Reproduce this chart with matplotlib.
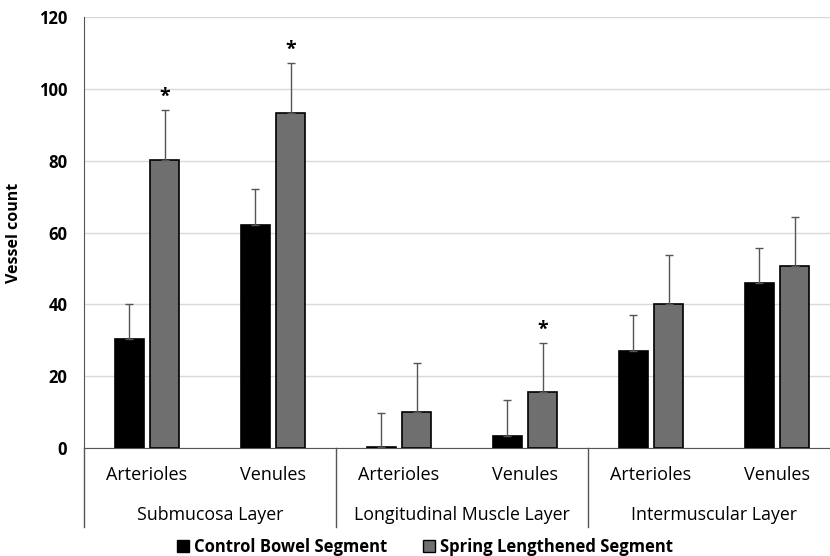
import numpy as np
import matplotlib.pyplot as plt
from matplotlib.patches import Patch
from matplotlib.transforms import blended_transform_factory

plt.rcParams['font.family'] = ['Open Sans', 'DejaVu Sans']

# data
vessels = ['Arterioles', 'Venules', 'Arterioles', 'Venules', 'Arterioles', 'Venules']
layers = ['Submucosa Layer', 'Longitudinal Muscle Layer', 'Intermuscular Layer']
control = [30.4, 62.1, 0.3, 3.3, 27.0, 45.9]
control_err = [9.7, 10.0, 9.4, 10.1, 10.0, 9.8]
spring = [80.2, 93.3, 10.0, 15.6, 40.1, 50.7]
spring_err = [13.9, 13.9, 13.7, 13.6, 13.7, 13.6]
signif = [True, True, False, True, False, False]

c_ctrl = '#000000'
c_spring = '#6f6f6f'

fig = plt.figure(figsize=(8.3, 5.56), dpi=100)
ax = fig.add_axes([84/830, 108/556, 756/830, 431/556])

x = np.arange(len(vessels))
w = 0.225
off = 0.14
ax.bar(x - off, control, w, color=c_ctrl, edgecolor='black', linewidth=1.2, zorder=3)
ax.bar(x + off, spring, w, color=c_spring, edgecolor='black', linewidth=1.2, zorder=3)
ax.errorbar(x - off, control, yerr=[np.zeros(len(x)), control_err], fmt='none',
            ecolor='#555555', elinewidth=1, capsize=3, capthick=1, zorder=4)
ax.errorbar(x + off, spring, yerr=[np.zeros(len(x)), spring_err], fmt='none',
            ecolor='#555555', elinewidth=1, capsize=3, capthick=1, zorder=4)
for i, s in enumerate(signif):
    if s:
        ax.text(x[i] + off, spring[i] + spring_err[i] + 0.8, '*', ha='center', va='bottom',
                fontsize=14, fontweight='bold')

ax.set_xlim(-0.5, 5.5)
ax.set_ylim(0, 120)
ax.set_yticks(range(0, 121, 20))
ax.tick_params(axis='y', length=0, labelsize=12, pad=12)
for t in ax.get_yticklabels():
    t.set_fontweight('bold')
ax.yaxis.grid(True, color='#d9d9d9', linewidth=1)
ax.set_axisbelow(True)
for s in ['top', 'right']:
    ax.spines[s].set_visible(False)
ax.spines['left'].set_color('#555555')
ax.spines['bottom'].set_color('#555555')
ax.set_ylabel('Vessel count', fontsize=11.5, fontweight='bold', labelpad=12)

ax.set_xticks(x)
ax.set_xticklabels(vessels, fontsize=13)
ax.tick_params(axis='x', length=0, pad=13)

# layer labels and separators
trans = blended_transform_factory(ax.transData, ax.transAxes)
for j, name in enumerate(layers):
    ax.text(2*j + 0.5, -67/431, name, transform=trans, ha='center', va='center', fontsize=12.8)
for xs in [-0.5, 1.5, 3.5]:
    ax.plot([xs, xs], [0, -79/431], transform=trans, color='#555555', lw=1, clip_on=False)

handles = [Patch(facecolor=c_ctrl, edgecolor='black'),
           Patch(facecolor=c_spring, edgecolor='black')]
fig.legend(handles, ['Control Bowel Segment', 'Spring Lengthened Segment'],
           loc='center', bbox_to_anchor=(425/830, 1 - 547/556), ncol=2, frameon=False,
           prop={'weight': 'bold', 'size': 12}, handlelength=0.7, handleheight=0.7,
           handletextpad=0.3, columnspacing=2.2)

fig.savefig('out.png', dpi=100)
